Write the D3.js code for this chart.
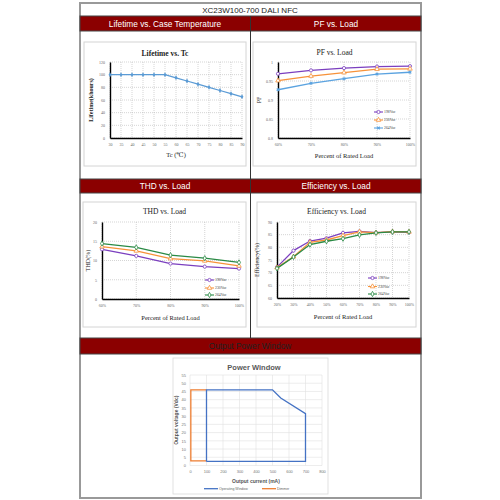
<!DOCTYPE html>
<html>
<head>
<meta charset="utf-8">
<script src="https://cdn.jsdelivr.net/npm/d3@7.9.0/dist/d3.min.js"></script>
<style>
  html, body { margin: 0; padding: 0; background: #fff; }
  svg { display: block; }
</style>
</head>
<body>
<svg id="page" width="500" height="500"></svg>
<script>
// ---- data ----
const lifeTemps = [30, 35, 40, 45, 50, 55, 60, 65, 70, 75, 80, 85, 90];
const lifeHours = [100, 100, 100, 100, 100, 100, 95, 90, 85, 80, 75, 70, 65];

const loadPct = ['60%', '70%', '80%', '90%', '100%'];
const pf198 = [0.969, 0.978, 0.984, 0.988, 0.989];
const pf230 = [0.951, 0.963, 0.972, 0.981, 0.982];
const pf264 = [0.927, 0.944, 0.956, 0.968, 0.973];

const thd198 = [12.9, 11.2, 9.2, 8.4, 7.9];
const thd230 = [13.6, 12.5, 10.5, 9.9, 8.6];
const thd264 = [14.4, 13.4, 11.4, 10.6, 9.5];

const effLoad = ['20%', '30%', '40%', '50%', '60%', '70%', '80%', '90%', '100%'];
const eff198 = [72.2, 78.7, 82.5, 83.6, 85.7, 86.3, 85.8, 86.1, 85.9];
const eff230 = [72.0, 76.3, 82.0, 82.9, 84.6, 86.1, 85.8, 86.2, 86.1];
const eff264 = [71.7, 76.2, 81.1, 82.4, 83.4, 84.9, 85.7, 86.1, 86.1];

const opWindow = [[100, 2.5], [100, 46], [500, 46], [550, 41], [700, 31.5], [700, 2.5], [100, 2.5]];
const dimmer = [[100, 46], [5, 46], [5, 2.8], [100, 2.8]];

const vacNames = ['198Vac', '230Vac', '264Vac'];

const svg = d3.select('#page');
const RED = '#8b0000';
const serif = "'Liberation Serif', 'DejaVu Serif', serif";
const sans = "'Liberation Sans', Arial, sans-serif";

// ---- page frame ----
svg.append('rect').attr('x', 80).attr('y', 3).attr('width', 341).attr('height', 495)
  .attr('fill', '#fff').attr('stroke', '#999').attr('stroke-width', 2);

svg.append('text').attr('x', 250).attr('y', 12.5).attr('text-anchor', 'middle')
  .attr('font-family', sans).attr('font-size', 8).attr('fill', '#222')
  .text('XC23W100-700 DALI NFC');

function band(y, h, labels, color) {
  svg.append('rect').attr('x', 80).attr('y', y).attr('width', 341).attr('height', h)
    .attr('fill', RED).attr('stroke', '#444').attr('stroke-width', 1);
  labels.forEach(([x, t]) => {
    svg.append('text').attr('x', x).attr('y', y + h / 2 + 3)
      .attr('text-anchor', 'middle').attr('font-family', sans)
      .attr('font-size', 8.3).attr('fill', color).text(t);
  });
}

band(16, 15, [[165, 'Lifetime vs. Case Temperature'], [336, 'PF vs. Load']], '#fff');
band(179, 14, [[165, 'THD vs. Load'], [336, 'Efficiency vs. Load']], '#fff');
band(338, 16, [[250, 'Output Power Window']], '#222');

svg.append('line').attr('x1', 250.5).attr('x2', 250.5).attr('y1', 16).attr('y2', 338)
  .attr('stroke', '#333').attr('stroke-width', 1);

// ---- markers ----
function marker(g, type, x, y, color) {
  if (type === 'circle') {
    g.append('circle').attr('cx', x).attr('cy', y).attr('r', 1.6)
      .attr('fill', '#fff').attr('stroke', color).attr('stroke-width', 0.8);
  } else if (type === 'tri') {
    g.append('path').attr('d', d3.symbol(d3.symbolTriangle, 9)())
      .attr('transform', `translate(${x},${y})`)
      .attr('fill', '#fff').attr('stroke', color).attr('stroke-width', 0.8);
  } else if (type === 'star') {
    g.append('path').attr('d', d3.symbol(d3.symbolCross, 7)())
      .attr('transform', `translate(${x},${y}) rotate(45)`)
      .attr('fill', color);
  } else if (type === 'diamond') {
    g.append('path').attr('d', d3.symbol(d3.symbolDiamond, 8)())
      .attr('transform', `translate(${x},${y})`)
      .attr('fill', '#fff').attr('stroke', color).attr('stroke-width', 0.8);
  } else if (type === 'fdiamond') {
    g.append('path').attr('d', d3.symbol(d3.symbolDiamond, 7)())
      .attr('transform', `translate(${x},${y})`)
      .attr('fill', color);
  }
}

// ---- generic excel-ish line chart ----
function lineChart(c) {
  const g = svg.append('g');
  const [bx0, by0, bx1, by1] = c.box;
  g.append('rect').attr('x', bx0).attr('y', by0).attr('width', bx1 - bx0).attr('height', by1 - by0)
    .attr('fill', '#fff').attr('stroke', '#d4d4d4').attr('stroke-width', 1);

  const [l, t, r, b] = c.plot;
  let x;
  if (c.cats) x = d3.scalePoint().domain(c.cats).range([l, r]).padding(0);
  else x = d3.scaleLinear().domain(d3.extent(c.xVals)).range([l, r]);
  const y = d3.scaleLinear().domain(c.yDomain).range([b, t]);

  const xTicks = c.cats ? c.cats : c.xVals;

  // grid
  g.append('g').selectAll('line').data(c.yTicks).join('line')
    .attr('x1', l).attr('x2', r).attr('y1', d => y(d)).attr('y2', d => y(d))
    .attr('stroke', '#aaa').attr('stroke-width', 0.5).attr('stroke-dasharray', '1,1');
  g.append('g').selectAll('line').data(xTicks).join('line')
    .attr('x1', d => x(d)).attr('x2', d => x(d)).attr('y1', t).attr('y2', b)
    .attr('stroke', '#aaa').attr('stroke-width', 0.5).attr('stroke-dasharray', '1,1');

  // axes
  const yAxis = g.append('g').attr('transform', `translate(${l},0)`)
    .call(d3.axisLeft(y).tickValues(c.yTicks).tickSize(0).tickPadding(5).tickFormat(c.yFmt || d3.format('')));
  const xAxis = g.append('g').attr('transform', `translate(0,${b})`)
    .call(d3.axisBottom(x).tickValues(xTicks).tickSize(0).tickPadding(5));
  [yAxis, xAxis].forEach(a => {
    a.select('.domain').attr('stroke', '#000').attr('stroke-width', 1.4);
    a.selectAll('text').attr('font-family', serif).attr('font-size', 4).attr('fill', '#666');
  });

  // title & axis titles
  g.append('text').attr('x', (bx0 + bx1) / 2).attr('y', c.titleY).attr('text-anchor', 'middle')
    .attr('font-family', serif).attr('font-size', 7.5).attr('font-weight', c.bold ? 'bold' : 'normal')
    .attr('fill', '#222').text(c.title);
  g.append('text').attr('x', (l + r) / 2).attr('y', c.xTitleY).attr('text-anchor', 'middle')
    .attr('font-family', serif).attr('font-size', 6.5).attr('fill', '#222').text(c.xTitle);
  g.append('text').attr('transform', `translate(${c.yTitleX},${(t + b) / 2}) rotate(-90)`)
    .attr('text-anchor', 'middle').attr('font-family', serif).attr('font-size', 6)
    .attr('font-weight', c.bold ? 'bold' : 'normal').attr('fill', '#222').text(c.yTitle);

  // series
  const line = d3.line().x(d => x(d[0])).y(d => y(d[1]));
  c.series.forEach(s => {
    const pts = xTicks.map((k, i) => [k, s.values[i]]);
    g.append('path').datum(pts).attr('d', line).attr('fill', 'none')
      .attr('stroke', s.color).attr('stroke-width', 1.3);
    pts.forEach(p => marker(g, s.marker, x(p[0]), y(p[1]), s.color));
  });

  // legend
  if (c.legend) {
    const [lx, lys] = c.legend;
    c.series.forEach((s, i) => {
      g.append('line').attr('x1', lx).attr('x2', lx + 9).attr('y1', lys[i]).attr('y2', lys[i])
        .attr('stroke', s.color).attr('stroke-width', 1.1);
      marker(g, s.marker, lx + 4.5, lys[i], s.color);
      g.append('text').attr('x', lx + 10).attr('y', lys[i] + 1.3)
        .attr('font-family', serif).attr('font-size', 3.8).attr('fill', '#444').text(s.name);
    });
  }
}

const PURPLE = '#7b3fbf', ORANGE = '#f7923a', BLUE = '#5ba3e0', GREEN = '#2a8a45';

lineChart({
  box: [84, 42, 246, 166], plot: [110, 62, 242, 138],
  xVals: lifeTemps, yDomain: [0, 120], yTicks: [0, 20, 40, 60, 80, 100, 120],
  title: 'Lifetime vs. Tc', bold: true, titleY: 55.5,
  xTitle: 'Tc (\u2103)', xTitleY: 157, yTitle: 'Lifetime(khours)', yTitleX: 93,
  series: [{ name: 'Lifetime', values: lifeHours, color: '#5b9bd5', marker: 'fdiamond' }]
});

lineChart({
  box: [253, 42, 416, 166], plot: [278, 62, 410, 138],
  cats: loadPct, yDomain: [0.8, 1], yTicks: [0.8, 0.85, 0.9, 0.95, 1],
  title: 'PF vs. Load', titleY: 54.5,
  xTitle: 'Percent of Rated Load', xTitleY: 158, yTitle: 'PF', yTitleX: 261,
  series: [
    { name: vacNames[0], values: pf198, color: PURPLE, marker: 'circle' },
    { name: vacNames[1], values: pf230, color: ORANGE, marker: 'tri' },
    { name: vacNames[2], values: pf264, color: BLUE, marker: 'star' }
  ],
  legend: [374, [112, 120, 128]]
});

lineChart({
  box: [83, 202, 246, 327], plot: [102, 222, 239, 299],
  cats: loadPct, yDomain: [0, 20], yTicks: [0, 5, 10, 15, 20],
  title: 'THD vs. Load', titleY: 213.5,
  xTitle: 'Percent of Rated Load', xTitleY: 320, yTitle: 'THD(%)', yTitleX: 90,
  series: [
    { name: vacNames[0], values: thd198, color: PURPLE, marker: 'circle' },
    { name: vacNames[1], values: thd230, color: ORANGE, marker: 'tri' },
    { name: vacNames[2], values: thd264, color: GREEN, marker: 'diamond' }
  ],
  legend: [205, [280, 288, 295]]
});

lineChart({
  box: [257, 202, 416, 327], plot: [277, 222, 409, 298],
  cats: effLoad, yDomain: [60, 90], yTicks: [60, 65, 70, 75, 80, 85, 90],
  title: 'Efficiency vs. Load', titleY: 213.5,
  xTitle: 'Percent of Rated Load', xTitleY: 319, yTitle: 'Efficiency(%)', yTitleX: 259,
  series: [
    { name: vacNames[0], values: eff198, color: PURPLE, marker: 'circle' },
    { name: vacNames[1], values: eff230, color: ORANGE, marker: 'tri' },
    { name: vacNames[2], values: eff264, color: GREEN, marker: 'diamond' }
  ],
  legend: [368, [278, 286.5, 294]]
});

// ---- power window ----
(function powerWindow() {
  const g = svg.append('g');
  g.append('rect').attr('x', 173).attr('y', 358).attr('width', 155).attr('height', 136)
    .attr('fill', '#fff').attr('stroke', '#d9d9d9').attr('stroke-width', 0.8);
  const l = 190, r = 322, t = 375, b = 465.5;
  const x = d3.scaleLinear().domain([0, 800]).range([l, r]);
  const y = d3.scaleLinear().domain([0, 55]).range([b, t]);
  const xt = d3.range(0, 801, 100), yt = d3.range(0, 56, 5);

  g.append('g').selectAll('line').data(yt).join('line')
    .attr('x1', l).attr('x2', r).attr('y1', d => y(d)).attr('y2', d => y(d))
    .attr('stroke', '#e0e0e0').attr('stroke-width', 0.6);
  g.append('g').selectAll('line').data(xt).join('line')
    .attr('x1', d => x(d)).attr('x2', d => x(d)).attr('y1', t).attr('y2', b)
    .attr('stroke', '#e0e0e0').attr('stroke-width', 0.6);

  const ya = g.append('g').attr('transform', `translate(${l},0)`)
    .call(d3.axisLeft(y).tickValues(yt).tickSize(0).tickPadding(4));
  const xa = g.append('g').attr('transform', `translate(0,${b})`)
    .call(d3.axisBottom(x).tickValues(xt).tickSize(0).tickPadding(4.5));
  [ya, xa].forEach(a => {
    a.select('.domain').remove();
    a.selectAll('text').attr('font-family', sans).attr('font-size', 4).attr('fill', '#777');
  });

  const line = d3.line().x(d => x(d[0])).y(d => y(d[1]));
  g.append('path').datum(dimmer).attr('d', line).attr('fill', 'none')
    .attr('stroke', '#ed7d31').attr('stroke-width', 1.3);
  g.append('path').datum(opWindow).attr('d', line).attr('fill', 'none')
    .attr('stroke', '#4472c4').attr('stroke-width', 1.3);

  g.append('text').attr('x', 254).attr('y', 370).attr('text-anchor', 'middle')
    .attr('font-family', sans).attr('font-weight', 'bold').attr('font-size', 7.5)
    .attr('fill', '#595959').text('Power Window');
  g.append('text').attr('x', (l + r) / 2).attr('y', 482.5).attr('text-anchor', 'middle')
    .attr('font-family', sans).attr('font-weight', 'bold').attr('font-size', 5)
    .attr('fill', '#555').text('Output current (mA)');
  g.append('text').attr('transform', `translate(177.5,${(t + b) / 2}) rotate(-90)`)
    .attr('text-anchor', 'middle').attr('font-family', sans).attr('font-weight', 'bold')
    .attr('font-size', 5).attr('fill', '#555').text('Output voltage (Vdc)');

  const leg = [['Operating Window', '#4472c4', 204], ['Dimmer', '#ed7d31', 262]];
  leg.forEach(([name, col, lx]) => {
    g.append('line').attr('x1', lx).attr('x2', lx + 14).attr('y1', 488.7).attr('y2', 488.7)
      .attr('stroke', col).attr('stroke-width', 1.3);
    g.append('text').attr('x', lx + 15).attr('y', 490).attr('font-family', sans)
      .attr('font-size', 3.5).attr('fill', '#666').text(name);
  });
})();
</script>
</body>
</html>
